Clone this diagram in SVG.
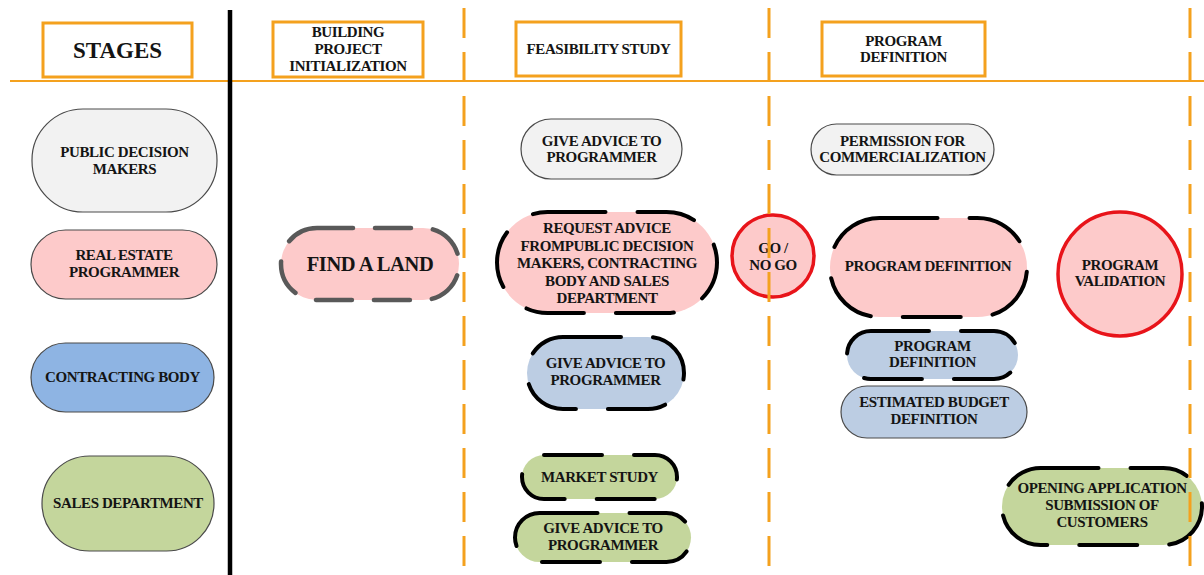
<svg xmlns="http://www.w3.org/2000/svg" width="1204" height="575" viewBox="0 0 1204 575">
<style>
.bg{fill:#ffffff}
.hdr{fill:#ffffff;stroke:#f4a11e;stroke-width:3}
.t{font-family:'Liberation Serif','Times New Roman',serif;font-weight:bold;fill:#141414;text-anchor:middle;font-size:15px;letter-spacing:-0.4px}
.thin{stroke:#4a4a4a;stroke-width:1.2}
.dash{stroke:#000;stroke-width:4;stroke-dasharray:58 32;stroke-linecap:round}
.gray{fill:#f2f2f2}
.pink{fill:#fdcaca}
.blue{fill:#8eb4e3}
.lblue{fill:#bccde3}
.green{fill:#c4d69c}
.red{stroke:#e8141a;stroke-width:3.5}
.ol{stroke:#f4a11e;stroke-width:3;stroke-dasharray:30 14;fill:none}
</style>
<rect class="bg" x="0" y="0" width="1204" height="575"/>

<g id="header">
  <g id="h-stages"><rect class="hdr" x="43" y="23" width="149" height="54"/><text class="t" x="117.5" y="58" style="font-size:23px;letter-spacing:0">STAGES</text></g>
  <g id="h-building"><rect class="hdr" x="273" y="22" width="150" height="55"/><text class="t" x="348" y="37">BUILDING</text><text class="t" x="348" y="54">PROJECT</text><text class="t" x="348" y="71">INITIALIZATION</text></g>
  <g id="h-feasibility"><rect class="hdr" x="516" y="22" width="165" height="54"/><text class="t" x="598.5" y="54">FEASIBILITY STUDY</text></g>
  <g id="h-program"><rect class="hdr" x="822" y="22" width="163" height="54"/><text class="t" x="903.5" y="46">PROGRAM</text><text class="t" x="903.5" y="62">DEFINITION</text></g>
</g>

<g id="lanes">
  <g id="pdm"><rect class="gray thin" x="32" y="109" width="185" height="103" rx="51" ry="51"/><text class="t" x="124.5" y="157">PUBLIC DECISION</text><text class="t" x="124.5" y="174">MAKERS</text></g>
  <g id="rep"><rect class="pink thin" x="31" y="230" width="186" height="69" rx="34.5" ry="34.5"/><text class="t" x="124" y="260">REAL ESTATE</text><text class="t" x="124" y="277">PROGRAMMER</text></g>
  <g id="cb"><rect class="blue thin" x="31" y="343" width="183" height="69" rx="34.5" ry="34.5"/><text class="t" x="122.5" y="382">CONTRACTING BODY</text></g>
  <g id="sd"><rect class="green thin" x="42" y="456" width="172" height="95" rx="47.5" ry="47.5"/><text class="t" x="128" y="508">SALES DEPARTMENT</text></g>
</g>

<g id="find-land"><rect class="pink" x="281" y="228" width="178" height="72" rx="36" ry="36" style="stroke:#595959;stroke-width:4.5;stroke-dasharray:36 22;stroke-linecap:round"/><text class="t" x="370" y="271" style="font-size:20.5px">FIND A LAND</text></g>

<g id="feasibility">
  <g id="f-give-gray"><rect class="gray thin" x="521" y="119" width="161" height="60" rx="30" ry="30"/><text class="t" x="601.5" y="146">GIVE ADVICE TO</text><text class="t" x="601.5" y="162">PROGRAMMER</text></g>
  <g id="f-request"><rect class="pink dash" x="497" y="212" width="220" height="101" rx="50.5" ry="50.5"/><text class="t" x="607" y="233">REQUEST ADVICE</text><text class="t" x="607" y="251">FROMPUBLIC DECISION</text><text class="t" x="607" y="268">MAKERS, CONTRACTING</text><text class="t" x="607" y="286">BODY AND SALES</text><text class="t" x="607" y="303">DEPARTMENT</text></g>
  <g id="f-give-blue"><rect class="lblue dash" x="527" y="337" width="157" height="72" rx="36" ry="36"/><text class="t" x="605.5" y="368">GIVE ADVICE TO</text><text class="t" x="605.5" y="385">PROGRAMMER</text></g>
  <g id="f-market"><rect class="green dash" x="522" y="455" width="155" height="44" rx="22" ry="22"/><text class="t" x="599.5" y="482">MARKET STUDY</text></g>
  <g id="f-give-green"><rect class="green dash" x="515" y="513" width="176" height="49" rx="24.5" ry="24.5"/><text class="t" x="603" y="533">GIVE ADVICE TO</text><text class="t" x="603" y="550">PROGRAMMER</text></g>
</g>

<g id="gonogo"><circle class="pink red" cx="773" cy="256" r="41"/><text class="t" x="773" y="253">GO /</text><text class="t" x="773" y="270">NO GO</text></g>

<g id="program">
  <g id="p-permission"><rect class="gray thin" x="811" y="124" width="183" height="51" rx="25.5" ry="25.5"/><text class="t" x="902.5" y="146">PERMISSION FOR</text><text class="t" x="902.5" y="162">COMMERCIALIZATION</text></g>
  <g id="p-def-pink"><rect class="pink dash" x="830" y="218" width="197" height="99" rx="49.5" ry="49.5"/><text class="t" x="928" y="271">PROGRAM DEFINITION</text></g>
  <g id="p-validation"><circle class="pink red" cx="1120" cy="274" r="62"/><text class="t" x="1120" y="270">PROGRAM</text><text class="t" x="1120" y="286">VALIDATION</text></g>
  <g id="p-def-blue"><rect class="lblue dash" x="847" y="331" width="171" height="48" rx="24" ry="24"/><text class="t" x="932.5" y="351">PROGRAM</text><text class="t" x="932.5" y="367">DEFINITION</text></g>
  <g id="p-budget"><rect class="lblue thin" x="841" y="386" width="186" height="52" rx="26" ry="26"/><text class="t" x="934" y="407">ESTIMATED BUDGET</text><text class="t" x="934" y="424">DEFINITION</text></g>
  <g id="p-opening"><rect class="green dash" x="1002" y="468" width="200" height="77" rx="38.5" ry="38.5"/><text class="t" x="1102" y="493">OPENING APPLICATION</text><text class="t" x="1102" y="510">SUBMISSION OF</text><text class="t" x="1102" y="527">CUSTOMERS</text></g>
</g>

<g id="connectors">
  <line x1="10" y1="81" x2="1204" y2="81" stroke="#f4a11e" stroke-width="2"/>
  <line x1="230" y1="10" x2="230" y2="575" stroke="#000" stroke-width="4.5"/>
  <line class="ol" x1="464" y1="8" x2="464" y2="575"/>
  <line class="ol" x1="769" y1="8" x2="769" y2="575"/>
  <line class="ol" x1="1190" y1="8" x2="1190" y2="575"/>
</g>
</svg>
